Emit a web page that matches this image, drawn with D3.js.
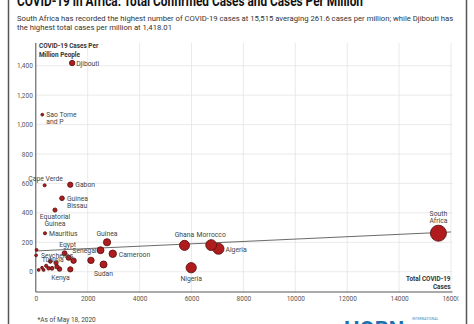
<!DOCTYPE html>
<html><head><meta charset="utf-8">
<script src="https://cdn.jsdelivr.net/npm/d3@7"></script>
<style>
html,body{margin:0;padding:0;background:#fff;}
svg{display:block;font-family:Roboto, "Noto Sans", sans-serif;}
</style></head>
<body>
<svg id="c" width="474" height="324"></svg>
<script>
// ---- data ----
const countries = ["Djibouti","Sao Tome and P","Cape Verde","Gabon","Guinea Bissau","Equatorial Guinea","Mauritius","Guinea","Senegal","Cameroon","Sudan","Cote d'Ivoire","Ghana","Morrocco","Algeria","Nigeria","South Africa","Seychelles","Egypt","Tunisia","Kenya","Eswatini","Comoros","Zambia","Mali","Niger","Somalia","DRC","Sierra Leone","CAR","Benin","Togo","Burkina Faso"];
const totalCases = [1401,250,340,1328,1009,739,354,2745,2495,2965,2610,2125,5730,6758,7040,5988,15515,11,1110,1265,915,30,110,240,815,300,1455,1330,495,625,400,560,780];
const casesPerMillion = [1418.01,1067,587,591,499,419,261,200,146,122,49,77,179,181,156,27,261.6,111,125,95,18,148,12,27,34,12,75,16,23,23,40,70,60];
const xTicks = [0,2000,4000,6000,8000,10000,12000,14000,16000];
const yTicks = [0,200,400,600,800,1000,1200,1400];
const trendX = [0,16000];
const trendY = [141,270];
// label placement per country: [dx, dy, anchor, lines]
const labels = {
  "Djibouti":[4,2.5,"start",["Djibouti"]],
  "Sao Tome and P":[4,2.5,"start",["Sao Tome","and P"]],
  "Cape Verde":[1,-4.5,"middle",["Cape Verde"]],
  "Gabon":[5,2.5,"start",["Gabon"]],
  "Guinea Bissau":[5,2.5,"start",["Guinea","Bissau"]],
  "Equatorial Guinea":[0,9,"middle",["Equatorial","Guinea"]],
  "Mauritius":[4,2.5,"start",["Mauritius"]],
  "Guinea":[0,-6.5,"middle",["Guinea"]],
  "Senegal":[-4,2.5,"end",["Senegal"]],
  "Cameroon":[6,3,"start",["Cameroon"]],
  "Sudan":[0,11.5,"middle",["Sudan"]],
  "Ghana":[0,-8,"middle",["Ghana"]],
  "Morrocco":[0,-8.5,"middle",["Morrocco"]],
  "Algeria":[7,3,"start",["Algeria"]],
  "Nigeria":[0,13.5,"middle",["Nigeria"]],
  "South Africa":[0,-17.5,"middle",["South","Africa"]],
  "Seychelles":[5,2.5,"start",["Seychelles"]],
  "Egypt":[3,-6,"middle",["Egypt"]],
  "Tunisia":[-5,4,"end",["Tunisia"]],
  "Kenya":[1,10.5,"middle",["Kenya"]]
};

const svg = d3.select("#c");
const x = d3.scaleLinear().domain([0,16000]).range([35.8,451]);
const y = d3.scaleLinear().domain([0,1400]).range([271.7,65.7]);
const r = d3.scaleSqrt().domain([0,15515]).range([0.4,8]);
const pTop = 43, pBottom = 292, pLeft = 35.8, pRight = 452.5;

// frame
svg.append("line").attr("x1",8.5).attr("x2",8.5).attr("y1",0).attr("y2",324).attr("stroke","#555").attr("stroke-width",1.5);
svg.append("line").attr("x1",466.5).attr("x2",466.5).attr("y1",0).attr("y2",324).attr("stroke","#555").attr("stroke-width",1.5);

// title & subtitle
svg.append("text").attr("x",17).attr("y",6).attr("font-size",14).attr("font-weight","bold").attr("fill","#111")
  .attr("textLength",346).attr("lengthAdjust","spacingAndGlyphs")
  .text("COVID-19 in Africa: Total Confirmed Cases and Cases Per Million");
const sub = svg.append("text").attr("font-size",7.7).attr("fill","#333");
sub.append("tspan").attr("x",17).attr("y",21).text("South Africa has recorded the highest number of COVID-19 cases at 15,515 averaging 261.6 cases per million; while Djibouti has");
sub.append("tspan").attr("x",17).attr("y",30).text("the highest total cases per million at 1,418.01");

// grid
const g = svg.append("g");
g.selectAll(".vg").data(xTicks).join("line").attr("x1",d=>x(d)).attr("x2",d=>x(d)).attr("y1",pTop).attr("y2",pBottom)
  .attr("stroke","#e4e4e4").attr("stroke-width",0.8);
g.selectAll(".hg").data(yTicks).join("line").attr("x1",pLeft).attr("x2",pRight).attr("y1",d=>y(d)).attr("y2",d=>y(d))
  .attr("stroke","#e4e4e4").attr("stroke-width",0.8);

// axes
const yAxis = d3.axisLeft(y).tickValues(yTicks).tickSize(0).tickPadding(4).tickFormat(d3.format(","));
const ya = svg.append("g").attr("transform",`translate(${pLeft},0)`).call(yAxis);
ya.select(".domain").remove();
ya.selectAll("text").attr("font-size",6.5).attr("fill","#555").attr("font-family","Roboto").attr("x",-3);
svg.append("line").attr("x1",pLeft).attr("x2",pLeft).attr("y1",pTop).attr("y2",pBottom).attr("stroke","#555").attr("stroke-width",1);

svg.append("clipPath").attr("id","xc").append("rect").attr("x",0).attr("y",290).attr("width",458.5).attr("height",20);
const xAxis = d3.axisBottom(x).tickValues(xTicks).tickSize(0).tickPadding(4).tickFormat(d3.format("d"));
const xa = svg.append("g").attr("clip-path","url(#xc)").append("g").attr("transform",`translate(0,${pBottom})`).call(xAxis);
xa.select(".domain").remove();
xa.selectAll("text").attr("font-size",6.5).attr("fill","#555").attr("font-family","Roboto");
svg.append("line").attr("x1",pLeft).attr("x2",pRight).attr("y1",pBottom).attr("y2",pBottom).attr("stroke","#555").attr("stroke-width",1);

// axis titles
const yt = svg.append("text").attr("font-size",6.4).attr("font-weight","bold").attr("fill","#333");
yt.append("tspan").attr("x",39).attr("y",48).text("COVID-19 Cases Per");
yt.append("tspan").attr("x",39).attr("y",56.5).text("Million People");
const xt = svg.append("text").attr("font-size",6.4).attr("font-weight","bold").attr("fill","#333").attr("text-anchor","end");
xt.append("tspan").attr("x",450.5).attr("y",280.5).text("Total COVID-19");
xt.append("tspan").attr("x",450.5).attr("y",288.5).text("Cases");

// trend line
svg.append("line").attr("x1",x(trendX[0])).attr("y1",y(trendY[0])).attr("x2",x(trendX[1])).attr("y2",y(trendY[1]))
  .attr("stroke","#444").attr("stroke-width",0.8);

// points
const data = countries.map((c,i)=>({c, tc:totalCases[i], pm:casesPerMillion[i]}));
data.sort((a,b)=>b.tc-a.tc);
svg.append("g").selectAll("circle").data(data).join("circle")
  .attr("cx",d=>x(d.tc)).attr("cy",d=>y(d.pm)).attr("r",d=>Math.max(1.4,r(d.tc)))
  .attr("fill","#b01b1e").attr("stroke","#5e1414").attr("stroke-width",0.9);

// labels
const lg = svg.append("g").attr("font-size",6.8).attr("fill","#444");
data.filter(d=>labels[d.c]).forEach(d=>{
  const [dx,dy,anc,lines] = labels[d.c];
  const t = lg.append("text").attr("text-anchor",anc);
  lines.forEach((ln,i)=>t.append("tspan").attr("x",x(d.tc)+dx).attr("y",y(d.pm)+dy+i*7).text(ln));
});

// footnote
svg.append("text").attr("x",37.5).attr("y",322).attr("font-size",6.5).attr("fill","#444").text("*As of May 18, 2020");

// logo (partially visible)
svg.append("text").attr("x",344).attr("y",337).attr("font-size",22).attr("font-weight","bold").attr("fill","#1d6fae").text("HORN");
svg.append("text").attr("x",412).attr("y",320).attr("font-size",3.5).attr("fill","#3a8fbf").text("INTERNATIONAL");
</script>
</body></html>
